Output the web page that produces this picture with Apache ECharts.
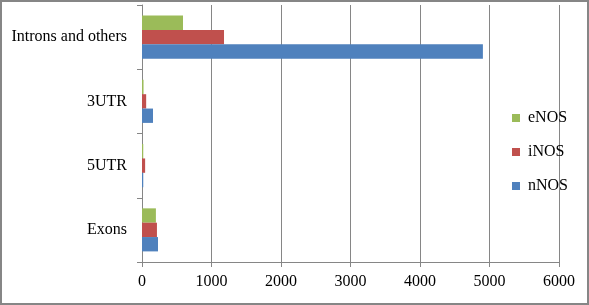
<!DOCTYPE html>
<html><head><meta charset="utf-8">
<script src="https://cdn.jsdelivr.net/npm/echarts@6/dist/echarts.min.js"></script>
<style>
html,body{margin:0;padding:0;background:#fff;}
#c{width:589px;height:305px;box-sizing:border-box;border:2px solid #868686;}
</style></head><body>
<div id="c"></div>
<script>
var categories = ['Exons', '5UTR', '3UTR', 'Introns and others'];
var nNOS = [230, 18, 158, 4905];
var iNOS = [215, 45, 60, 1180];
var eNOS = [200, 18, 22, 590];
var xTicks = [0, 1000, 2000, 3000, 4000, 5000, 6000];

var chart = echarts.init(document.getElementById('c'), null, {renderer: 'canvas'});
var font = 'Liberation Serif, Times New Roman, serif';
chart.setOption({
  animation: false,
  grid: {left: 140, right: 28, top: 3, bottom: 41, containLabel: false},
  legend: {
    orient: 'vertical', left: 505, top: 103, itemWidth: 8, itemHeight: 8, itemGap: 18,
    icon: 'rect',
    textStyle: {fontFamily: font, fontSize: 16, color: '#000', padding: [0, 0, 0, 3]},
    data: ['eNOS', 'iNOS', 'nNOS']
  },
  xAxis: {
    type: 'value', min: xTicks[0], max: xTicks[xTicks.length - 1], interval: 1000,
    axisLine: {show: true, lineStyle: {color: '#868686', width: 1}},
    axisTick: {show: true, length: 5, lineStyle: {color: '#868686'}},
    axisLabel: {fontFamily: font, fontSize: 16, color: '#000', margin: 12, formatter: function (v) { return String(v); }},
    splitLine: {show: true, lineStyle: {color: '#868686', width: 1}}
  },
  yAxis: {
    type: 'category', data: categories,
    axisLine: {show: true, lineStyle: {color: '#868686', width: 1}},
    axisTick: {show: true, length: 5, lineStyle: {color: '#868686'}},
    axisLabel: {fontFamily: font, fontSize: 16, color: '#000', margin: 15},
    splitLine: {show: false}
  },
  series: [
    {name: 'eNOS', type: 'bar', data: eNOS, itemStyle: {color: '#9BBB59'}, barGap: '0%', barCategoryGap: '33%'},
    {name: 'iNOS', type: 'bar', data: iNOS, itemStyle: {color: '#C0504D'}, barGap: '0%', barCategoryGap: '33%'},
    {name: 'nNOS', type: 'bar', data: nNOS, itemStyle: {color: '#4F81BD'}, barGap: '0%', barCategoryGap: '33%'}
  ]
});
</script>
</body></html>
